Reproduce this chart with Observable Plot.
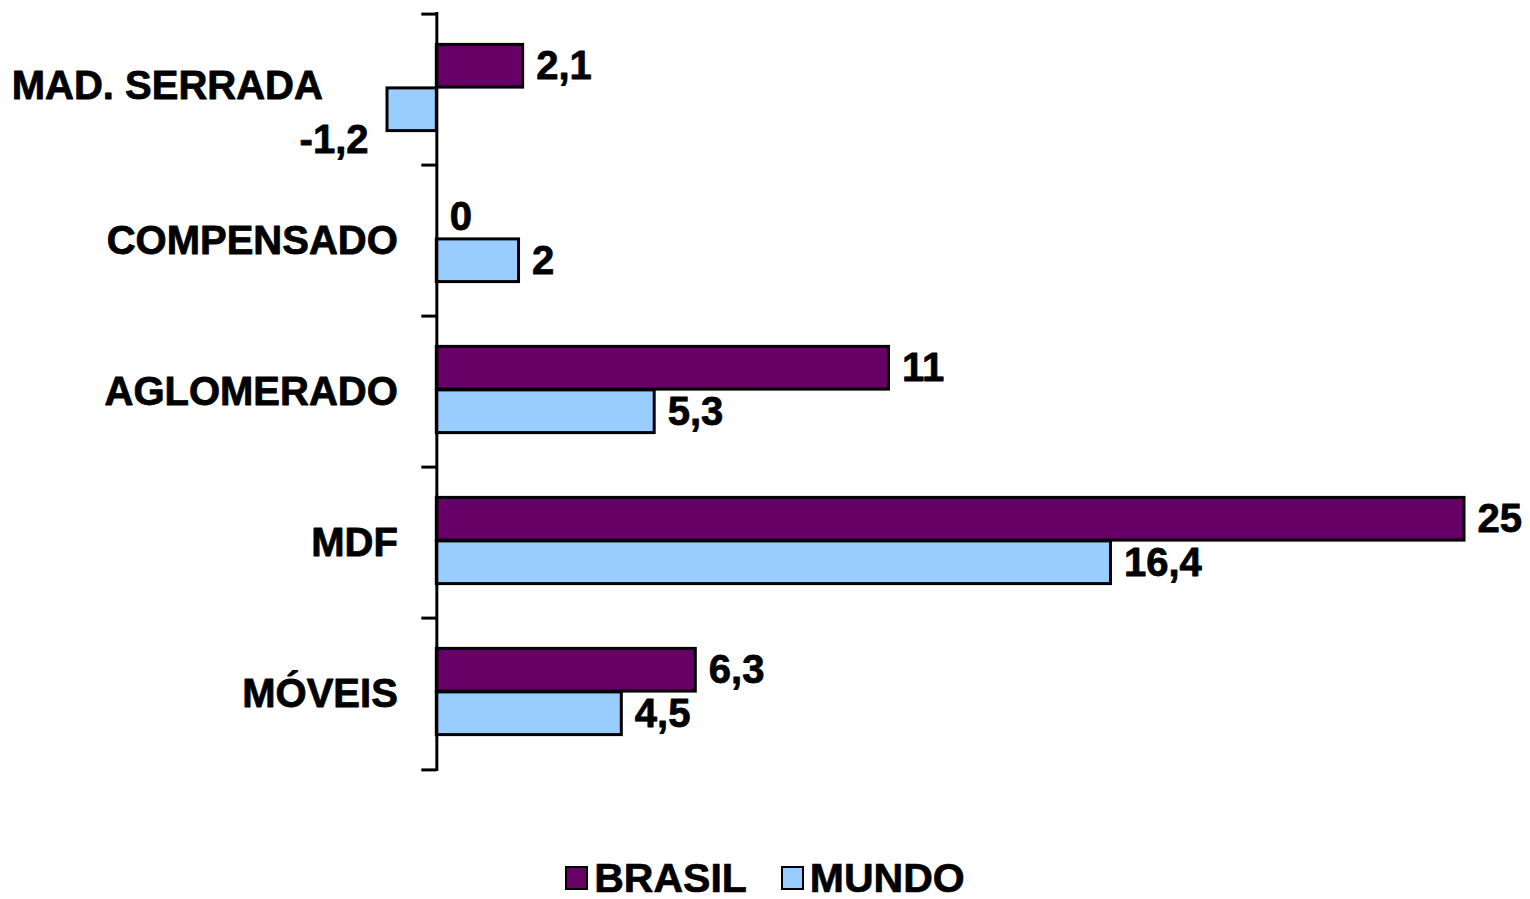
<!DOCTYPE html>
<html>
<head>
<meta charset="utf-8">
<script src="https://cdn.jsdelivr.net/npm/d3@7"></script>
<script src="https://cdn.jsdelivr.net/npm/@observablehq/plot@0.6"></script>
<style>
  html, body { margin: 0; padding: 0; background: #fff; }
  body { width: 1530px; height: 899px; overflow: hidden; font-family: "Liberation Sans", Arial, sans-serif; }
  #legend { height: 40px; line-height: 40px; margin-top: 2px; display: flex; justify-content: center; align-items: center; font-weight: bold; font-size: 41px; color: #000; -webkit-text-stroke: 0.7px #000; }
  #legend .sw { display: inline-block; width: 19px; height: 20px; border: 2.5px solid #000; margin-right: 6px; }
  #legend .item { display: flex; align-items: center; margin: 0 17px; }
</style>
</head>
<body>
<div id="chart"></div>
<div id="legend"></div>
<script>
const categories = ["MAD. SERRADA", "COMPENSADO", "AGLOMERADO", "MDF", "MÓVEIS"];
const brasil = [2.1, 0, 11, 25, 6.3];
const mundo = [-1.2, 2, 5.3, 16.4, 4.5];
const seriesNames = ["BRASIL", "MUNDO"];
const seriesColors = ["#660066", "#99CCFF"];

const W = 1530, H = 856;
const mL = 387, mR = 66, mT = 12, mB = 85;
const xDomain = [-1.2, 25];
const k = (W - mL - mR) / (xDomain[1] - xDomain[0]);
const step = (H - mT - mB) / categories.length;
const barH = 43.5;
const pad = (step - 2 * barH) / 2 - 2;

const rows = [];
categories.forEach((c, i) => {
  rows.push({cat: c, series: "BRASIL", value: brasil[i]});
  rows.push({cat: c, series: "MUNDO", value: mundo[i]});
});
const fmt = v => String(v).replace(".", ",");
const br = rows.filter(d => d.series === "BRASIL");
const mu = rows.filter(d => d.series === "MUNDO");
const font = {fontFamily: "Liberation Sans, Arial, sans-serif", fontWeight: "bold", fontSize: 40, fill: "#000", stroke: "#000", strokeWidth: 0.8};

const plot = Plot.plot({
  width: W, height: H,
  marginLeft: mL, marginRight: mR, marginTop: mT, marginBottom: mB,
  x: {domain: xDomain, axis: null},
  y: {domain: categories, padding: 0, axis: null},
  color: {domain: seriesNames, range: seriesColors},
  style: {background: "#fff", overflow: "visible"},
  marks: [
    Plot.barX(br, {x: "value", y: "cat", fill: "series", stroke: "#000", strokeWidth: 3, insetTop: pad, insetBottom: step - pad - barH}),
    Plot.barX(mu, {x: "value", y: "cat", fill: "series", stroke: "#000", strokeWidth: 3, insetTop: pad + barH, insetBottom: step - pad - 2 * barH}),
    Plot.ruleX([0], {stroke: "#000", strokeWidth: 3}),
    Plot.ruleY(categories, {y: d => d, x1: -15 / k, x2: 0, dy: -step / 2, stroke: "#000", strokeWidth: 3}),
    Plot.ruleY(categories.slice(-1), {y: d => d, x1: -15 / k, x2: 0, dy: step / 2, stroke: "#000", strokeWidth: 3}),
    Plot.text(br, {x: "value", y: "cat", text: d => fmt(d.value), textAnchor: "start", dx: 13, dy: -barH / 2 - 2, ...font}),
    Plot.text(mu.filter(d => d.value >= 0), {x: "value", y: "cat", text: d => fmt(d.value), textAnchor: "start", dx: 13, dy: barH / 2 - 2, ...font}),
    Plot.text(mu.filter(d => d.value < 0), {x: "value", y: "cat", text: d => fmt(d.value), textAnchor: "end", dx: -19, dy: barH / 2 + 28, ...font}),
    Plot.text(categories.slice(0, 1), {x: () => 0, y: d => d, text: d => d, textAnchor: "end", dx: -114, dy: -4, ...font}),
    Plot.text(categories.slice(1), {x: () => 0, y: d => d, text: d => d, textAnchor: "end", dx: -39, ...font})
  ]
});
document.getElementById("chart").appendChild(plot);

const legend = document.getElementById("legend");
seriesNames.forEach((s, i) => {
  const item = document.createElement("span");
  item.className = "item";
  const sw = document.createElement("span");
  sw.className = "sw";
  sw.style.background = seriesColors[i];
  item.appendChild(sw);
  item.appendChild(document.createTextNode(s));
  legend.appendChild(item);
});
</script>
</body>
</html>
